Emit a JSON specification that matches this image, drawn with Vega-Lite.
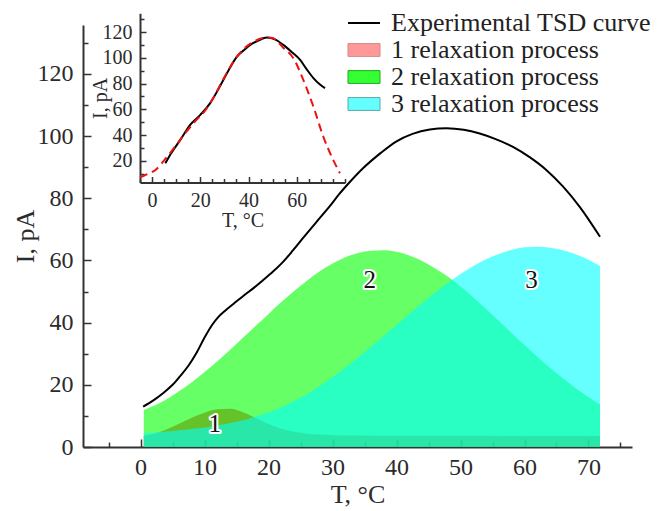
{
  "$schema": "https://vega.github.io/schema/vega-lite/v6.json",
  "width": 549,
  "height": 422,
  "autosize": "none",
  "padding": {"left": 83, "top": 25, "right": 40, "bottom": 64},
  "config": {
    "view": {"stroke": null},
    "font": "Liberation Serif",
    "axis": {
      "labelFont": "Liberation Serif",
      "titleFont": "Liberation Serif",
      "labelColor": "#2b2b2b",
      "titleColor": "#2b2b2b",
      "domainColor": "#333333",
      "tickColor": "#333333",
      "grid": false,
      "titleFontWeight": "normal"
    }
  },
  "datasets": {
    "main": [
      {"T": 0.5, "process": "1 relaxation process", "I": 3.6},
      {"T": 2, "process": "1 relaxation process", "I": 4.2},
      {"T": 4, "process": "1 relaxation process", "I": 5.6},
      {"T": 6, "process": "1 relaxation process", "I": 7.5},
      {"T": 8, "process": "1 relaxation process", "I": 9.4},
      {"T": 10, "process": "1 relaxation process", "I": 11.0},
      {"T": 12, "process": "1 relaxation process", "I": 12.1},
      {"T": 14, "process": "1 relaxation process", "I": 12.3},
      {"T": 16, "process": "1 relaxation process", "I": 11.2},
      {"T": 18, "process": "1 relaxation process", "I": 9.3},
      {"T": 20, "process": "1 relaxation process", "I": 7.4},
      {"T": 22, "process": "1 relaxation process", "I": 5.9},
      {"T": 24, "process": "1 relaxation process", "I": 4.9},
      {"T": 26, "process": "1 relaxation process", "I": 4.3},
      {"T": 28, "process": "1 relaxation process", "I": 4.0},
      {"T": 30, "process": "1 relaxation process", "I": 3.8},
      {"T": 34, "process": "1 relaxation process", "I": 3.7},
      {"T": 40, "process": "1 relaxation process", "I": 3.6},
      {"T": 50, "process": "1 relaxation process", "I": 3.6},
      {"T": 60, "process": "1 relaxation process", "I": 3.5},
      {"T": 71.8, "process": "1 relaxation process", "I": 3.5},
      {"T": 0.5, "process": "2 relaxation process", "I": 11.9},
      {"T": 2, "process": "2 relaxation process", "I": 13.2},
      {"T": 4, "process": "2 relaxation process", "I": 15.3},
      {"T": 6, "process": "2 relaxation process", "I": 17.9},
      {"T": 8, "process": "2 relaxation process", "I": 20.8},
      {"T": 10, "process": "2 relaxation process", "I": 24.1},
      {"T": 12, "process": "2 relaxation process", "I": 27.6},
      {"T": 14, "process": "2 relaxation process", "I": 31.3},
      {"T": 16, "process": "2 relaxation process", "I": 35.1},
      {"T": 18, "process": "2 relaxation process", "I": 39.0},
      {"T": 20, "process": "2 relaxation process", "I": 42.8},
      {"T": 22, "process": "2 relaxation process", "I": 46.6},
      {"T": 24, "process": "2 relaxation process", "I": 50.2},
      {"T": 26, "process": "2 relaxation process", "I": 53.5},
      {"T": 28, "process": "2 relaxation process", "I": 56.5},
      {"T": 30, "process": "2 relaxation process", "I": 59.0},
      {"T": 32, "process": "2 relaxation process", "I": 61.0},
      {"T": 34, "process": "2 relaxation process", "I": 62.4},
      {"T": 36, "process": "2 relaxation process", "I": 63.1},
      {"T": 38, "process": "2 relaxation process", "I": 63.3},
      {"T": 40, "process": "2 relaxation process", "I": 62.8},
      {"T": 42, "process": "2 relaxation process", "I": 61.6},
      {"T": 44, "process": "2 relaxation process", "I": 59.8},
      {"T": 46, "process": "2 relaxation process", "I": 57.5},
      {"T": 48, "process": "2 relaxation process", "I": 54.8},
      {"T": 50, "process": "2 relaxation process", "I": 51.6},
      {"T": 52, "process": "2 relaxation process", "I": 48.1},
      {"T": 54, "process": "2 relaxation process", "I": 44.4},
      {"T": 56, "process": "2 relaxation process", "I": 40.5},
      {"T": 58, "process": "2 relaxation process", "I": 36.6},
      {"T": 60, "process": "2 relaxation process", "I": 32.8},
      {"T": 62, "process": "2 relaxation process", "I": 29.0},
      {"T": 64, "process": "2 relaxation process", "I": 25.4},
      {"T": 66, "process": "2 relaxation process", "I": 22.1},
      {"T": 68, "process": "2 relaxation process", "I": 18.9},
      {"T": 70, "process": "2 relaxation process", "I": 16.1},
      {"T": 71.8, "process": "2 relaxation process", "I": 13.7},
      {"T": 0.5, "process": "3 relaxation process", "I": 4.4},
      {"T": 2, "process": "3 relaxation process", "I": 4.7},
      {"T": 4, "process": "3 relaxation process", "I": 5.0},
      {"T": 6, "process": "3 relaxation process", "I": 5.4},
      {"T": 8, "process": "3 relaxation process", "I": 5.8},
      {"T": 10, "process": "3 relaxation process", "I": 6.3},
      {"T": 12, "process": "3 relaxation process", "I": 6.9},
      {"T": 14, "process": "3 relaxation process", "I": 7.7},
      {"T": 16, "process": "3 relaxation process", "I": 8.6},
      {"T": 18, "process": "3 relaxation process", "I": 9.8},
      {"T": 20, "process": "3 relaxation process", "I": 11.1},
      {"T": 22, "process": "3 relaxation process", "I": 12.8},
      {"T": 24, "process": "3 relaxation process", "I": 14.8},
      {"T": 26, "process": "3 relaxation process", "I": 17.0},
      {"T": 28, "process": "3 relaxation process", "I": 19.6},
      {"T": 30, "process": "3 relaxation process", "I": 22.5},
      {"T": 32, "process": "3 relaxation process", "I": 25.6},
      {"T": 34, "process": "3 relaxation process", "I": 28.8},
      {"T": 36, "process": "3 relaxation process", "I": 32.2},
      {"T": 38, "process": "3 relaxation process", "I": 35.7},
      {"T": 40, "process": "3 relaxation process", "I": 39.2},
      {"T": 42, "process": "3 relaxation process", "I": 42.8},
      {"T": 44, "process": "3 relaxation process", "I": 46.2},
      {"T": 46, "process": "3 relaxation process", "I": 49.6},
      {"T": 48, "process": "3 relaxation process", "I": 52.7},
      {"T": 50, "process": "3 relaxation process", "I": 55.6},
      {"T": 52, "process": "3 relaxation process", "I": 58.2},
      {"T": 54, "process": "3 relaxation process", "I": 60.4},
      {"T": 56, "process": "3 relaxation process", "I": 62.1},
      {"T": 58, "process": "3 relaxation process", "I": 63.4},
      {"T": 60, "process": "3 relaxation process", "I": 64.2},
      {"T": 62, "process": "3 relaxation process", "I": 64.4},
      {"T": 64, "process": "3 relaxation process", "I": 64.1},
      {"T": 66, "process": "3 relaxation process", "I": 63.3},
      {"T": 68, "process": "3 relaxation process", "I": 62.0},
      {"T": 70, "process": "3 relaxation process", "I": 60.2},
      {"T": 71.8, "process": "3 relaxation process", "I": 58.2}
    ],
    "exp": [
      {"T": 0.4, "I": 13.0}, {"T": 2, "I": 15.0}, {"T": 3.5, "I": 17.3}, {"T": 5, "I": 20.0},
      {"T": 6.1, "I": 22.6}, {"T": 7.5, "I": 26.2}, {"T": 8.75, "I": 30.3}, {"T": 10, "I": 35.2},
      {"T": 11.2, "I": 39.3}, {"T": 12.2, "I": 41.9}, {"T": 13.3, "I": 44.0}, {"T": 14.5, "I": 46.0}, {"T": 16, "I": 48.5},
      {"T": 17.6, "I": 51.0}, {"T": 19, "I": 53.4}, {"T": 20.7, "I": 56.4}, {"T": 22.3, "I": 59.6},
      {"T": 23.8, "I": 63.2}, {"T": 25.5, "I": 67.5}, {"T": 27.5, "I": 72.4}, {"T": 29.6, "I": 77.5},
      {"T": 31, "I": 81.2}, {"T": 32.7, "I": 85.2}, {"T": 34.8, "I": 89.7}, {"T": 37.5, "I": 94.5},
      {"T": 40, "I": 98.3}, {"T": 42.5, "I": 100.7}, {"T": 45.2, "I": 102.1}, {"T": 47.8, "I": 102.5},
      {"T": 50.5, "I": 102.0}, {"T": 53, "I": 100.8}, {"T": 55.5, "I": 99.0}, {"T": 58.2, "I": 96.5},
      {"T": 60.8, "I": 93.2}, {"T": 63.4, "I": 89.1}, {"T": 66, "I": 83.8}, {"T": 68.6, "I": 77.3},
      {"T": 71.8, "I": 67.6}
    ],
    "inset_exp": [
      {"T": 5.5, "I": 18}, {"T": 8, "I": 26}, {"T": 11.7, "I": 36.2}, {"T": 15.8, "I": 47.9},
      {"T": 20, "I": 55.7}, {"T": 24.1, "I": 64.8}, {"T": 27, "I": 74}, {"T": 29.6, "I": 83},
      {"T": 32.5, "I": 93}, {"T": 35.2, "I": 101}, {"T": 38, "I": 106}, {"T": 40.7, "I": 110.2},
      {"T": 44, "I": 113.5}, {"T": 47.6, "I": 115.9}, {"T": 51, "I": 114.5}, {"T": 54.4, "I": 110.2},
      {"T": 58, "I": 104.5}, {"T": 61.4, "I": 98.5}, {"T": 64, "I": 91.5}, {"T": 66.9, "I": 84.3},
      {"T": 69.5, "I": 79.5}, {"T": 71.7, "I": 76.5}
    ],
    "inset_fit": [
      {"T": -5, "I": 7.0}, {"T": -2, "I": 9.5}, {"T": 1.4, "I": 12.8}, {"T": 6.2, "I": 23},
      {"T": 10, "I": 32}, {"T": 14, "I": 42}, {"T": 18, "I": 51}, {"T": 22, "I": 59},
      {"T": 26, "I": 71}, {"T": 30, "I": 85}, {"T": 34, "I": 98}, {"T": 38, "I": 107},
      {"T": 42, "I": 112.5}, {"T": 46, "I": 115.5}, {"T": 48, "I": 116}, {"T": 50, "I": 115.5},
      {"T": 54.4, "I": 108}, {"T": 58.6, "I": 99.8}, {"T": 62.7, "I": 83}, {"T": 66.9, "I": 62.1},
      {"T": 71, "I": 38.8}, {"T": 75.1, "I": 20.6}, {"T": 77.9, "I": 10.2}
    ],
    "labels": [
      {"T": 11.6, "I": 7.4, "label": "1"},
      {"T": 35.8, "I": 53.7, "label": "2"},
      {"T": 61.1, "I": 53.7, "label": "3"}
    ]
  },
  "layer": [
    {
      "layer": [
        {
          "data": {"name": "main"},
          "mark": {"type": "area", "opacity": 0, "interpolate": "monotone"},
          "encoding": {
            "x": {"field": "T", "type": "quantitative",
              "scale": {"domain": [-9, 76.8], "nice": false, "zero": false},
              "axis": {"values": [0, 10, 20, 30, 40, 50, 60, 70], "tickSize": -8, "tickWidth": 1.5, "domainWidth": 2,
                "labelFontSize": 24, "labelPadding": 16, "title": "T, °C", "titleFontSize": 26, "titlePadding": 2, "orient": "bottom"}},
            "y": {"field": "I", "type": "quantitative", "stack": null,
              "scale": {"domain": [0, 135.7], "nice": false},
              "axis": {"values": [0, 20, 40, 60, 80, 100, 120], "tickSize": -8, "tickWidth": 1.5, "domainWidth": 2,
                "labelFontSize": 24, "labelPadding": 18, "title": "I, pA", "titleFontSize": 26, "titlePadding": -1, "orient": "left"}},
            "color": {"field": "process", "type": "nominal",
              "scale": {"domain": ["Experimental TSD curve", "1 relaxation process", "2 relaxation process", "3 relaxation process"],
                        "range": ["#000000", "#ff9999", "#33ff33", "#66ffff"]},
              "legend": {
                "orient": "none", "legendX": 268, "legendY": -15, "title": null,
                "labelFont": "Liberation Serif", "labelFontSize": 26, "labelColor": "#222222", "labelLimit": 0,
                "symbolType": "M-1,-0.4H1V0.4H-1Z",
                "symbolSize": 1024, "rowPadding": 1, "labelOffset": 14, "padding": 0,
                "symbolOpacity": 1,
                "encode": {"symbols": {"update": {
                  "shape": {"signal": "datum.value === 'Experimental TSD curve' ? 'stroke' : 'M-1,-0.4H1V0.4H-1Z'"},
                  "stroke": {"signal": "datum.value === 'Experimental TSD curve' ? '#000000' : datum.value === '1 relaxation process' ? '#d08a8a' : datum.value === '2 relaxation process' ? '#22aa22' : '#55aaaa'"},
                  "strokeWidth": {"signal": "datum.value === 'Experimental TSD curve' ? 2 : 1"}
                }}}
              }}
          }
        },
        {
          "data": {"name": "main"},
          "mark": {"type": "area", "opacity": 0.6, "interpolate": "monotone"},
          "encoding": {
            "x": {"field": "T", "type": "quantitative", "axis": null},
            "y": {"field": "I", "type": "quantitative", "stack": null, "axis": null},
            "fill": {"field": "process", "type": "nominal",
              "scale": {"domain": ["1 relaxation process", "2 relaxation process", "3 relaxation process"],
                        "range": ["#ff0000", "#00ff00", "#00ffff"]},
              "legend": null}
          }
        },
        {
          "data": {"name": "exp"},
          "mark": {"type": "line", "strokeWidth": 2, "color": "#000000", "interpolate": "monotone"},
          "encoding": {
            "x": {"field": "T", "type": "quantitative", "axis": null},
            "y": {"field": "I", "type": "quantitative", "axis": null}
          }
        },
        {
          "data": {"name": "labels"},
          "mark": {"type": "text", "font": "Liberation Serif", "fontSize": 25, "stroke": "white", "strokeWidth": 4, "strokeJoin": "round", "fill": "white", "baseline": "middle"},
          "encoding": {
            "x": {"field": "T", "type": "quantitative", "axis": null},
            "y": {"field": "I", "type": "quantitative", "axis": null},
            "text": {"field": "label"}
          }
        },
        {
          "data": {"name": "labels"},
          "mark": {"type": "text", "font": "Liberation Serif", "fontSize": 25, "fill": "#111111", "baseline": "middle"},
          "encoding": {
            "x": {"field": "T", "type": "quantitative", "axis": null},
            "y": {"field": "I", "type": "quantitative", "axis": null},
            "text": {"field": "label"}
          }
        },
        {
          "data": {"name": "labels"},
          "mark": {"type": "point", "opacity": 0},
          "encoding": {
            "x": {"field": "T", "type": "quantitative",
              "axis": {"values": [-5, 5, 15, 25, 35, 45, 55, 65, 75], "labels": false, "domain": false, "tickSize": -5, "tickWidth": 1.5, "title": null, "orient": "bottom"}},
            "y": {"field": "I", "type": "quantitative",
              "axis": {"values": [10, 30, 50, 70, 90, 110, 130], "labels": false, "domain": false, "tickSize": -5, "tickWidth": 1.5, "title": null, "orient": "left"}}
          }
        }
      ],
      "resolve": {"axis": {"x": "independent", "y": "independent"}}
    },
    {
      "layer": [
        {
          "data": {"name": "inset_exp"},
          "mark": {"type": "line", "strokeWidth": 2, "color": "#000000", "interpolate": "monotone"},
          "encoding": {
            "x": {"field": "T", "type": "quantitative",
              "scale": {"domain": [-5, 80], "range": [57, 262], "nice": false, "zero": false},
              "axis": {"values": [0, 20, 40, 60], "tickSize": -6, "tickWidth": 1.5, "domainWidth": 2, "offset": -264.5,
                "labelFontSize": 20, "labelPadding": 14, "title": "T, °C", "titleFontSize": 20, "titlePadding": 0, "orient": "bottom"}},
            "y": {"field": "I", "type": "quantitative",
              "scale": {"domain": [3, 134.8], "range": [157.5, -11.7], "nice": false, "zero": false},
              "axis": {"values": [20, 40, 60, 80, 100, 120], "tickSize": -6, "tickWidth": 1.5, "domainWidth": 2, "offset": -57,
                "labelFontSize": 20, "labelPadding": 14, "title": "I, pA", "titleFontSize": 20, "titlePadding": -8, "orient": "left"}}
          }
        },
        {
          "data": {"name": "inset_fit"},
          "mark": {"type": "line", "strokeWidth": 2, "color": "#ee1111", "strokeDash": [8, 5], "interpolate": "monotone"},
          "encoding": {
            "x": {"field": "T", "type": "quantitative", "axis": null},
            "y": {"field": "I", "type": "quantitative", "axis": null}
          }
        },
        {
          "data": {"name": "inset_fit"},
          "mark": {"type": "point", "opacity": 0},
          "encoding": {
            "x": {"field": "T", "type": "quantitative",
              "axis": {"values": [-5, 5, 10, 15, 25, 30, 35, 45, 50, 55, 65, 70, 75, 80], "labels": false, "domain": false, "tickSize": -4, "tickWidth": 1.5, "title": null, "orient": "bottom", "offset": -264.5}},
            "y": {"field": "I", "type": "quantitative",
              "axis": {"values": [10, 30, 50, 70, 90, 110, 130], "labels": false, "domain": false, "tickSize": -4, "tickWidth": 1.5, "title": null, "orient": "left", "offset": -57}}
          }
        }
      ],
      "resolve": {"axis": {"x": "independent", "y": "independent"}}
    }
  ],
  "resolve": {"scale": {"x": "independent", "y": "independent"}}
}
